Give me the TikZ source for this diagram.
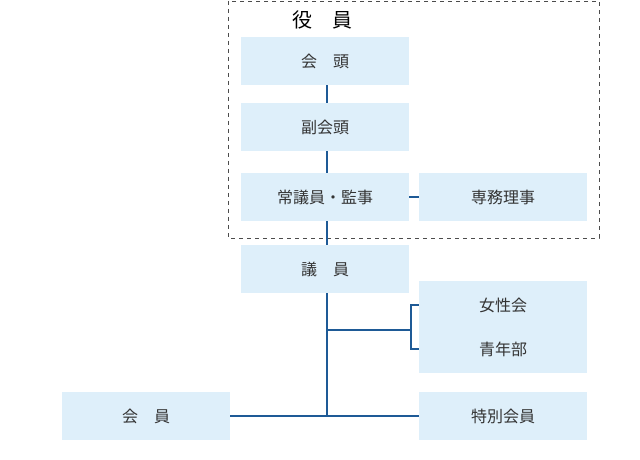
\documentclass[tikz,border=0pt]{standalone}
\usepackage{fontspec}
\setmainfont{Noto Sans CJK JP}
\definecolor{boxfill}{RGB}{222,239,250}
\definecolor{linecol}{RGB}{30,90,150}
\begin{document}
\begin{tikzpicture}[x=0.75pt,y=0.75pt,yscale=-1,xscale=1,
  post/.style={fill=boxfill,minimum width=126,minimum height=36,inner sep=0,font=\fontsize{12}{12}\selectfont,text=black!80},
  link/.style={draw=linecol,line width=1.2pt}]
\useasboundingbox (0,0) rectangle (640,460);

% dashed frame
\draw [dashed,black!70] (228,1) rectangle (599,238);
\node (yakuin) at (322,20) [font=\fontsize{15}{15}\selectfont] {役\hspace{1em}員};

% posts
\node (kaito) [post] at (325,61) {会\hspace{1em}頭};
\node (fuku) [post] at (325,127) {副会頭};
\node (joki) [post] at (325,197) {常議員・監事};
\node (senmu) [post] at (503,197) {専務理事};
\node (giin) [post] at (325,269) {議\hspace{1em}員};
\node (josei) [post] at (503,305) {女性会};
\node (seinen) [post] at (503,349) {青年部};
\node (kaiin) [post] at (146,416) {会\hspace{1em}員};
\node (tokubetsu) [post] at (503,416) {特別会員};

\coordinate (trunk) at (327,416);
\coordinate (fork) at (327,330);
\coordinate (split) at (411,330);

% connectors
\path [link] (kaito.south -| trunk) -- (fuku.north -| trunk);
\path [link] (fuku.south -| trunk) -- (joki.north -| trunk);
\path [link] (joki.south -| trunk) -- (giin.north -| trunk);
\path [link] (giin.south -| trunk) -- (trunk);
\path [link] (joki) -- (senmu);
\path [link] (fork) -- (split);
\path [link] (josei.west) -- (josei.west -| split) -- (seinen.west -| split) -- (seinen.west);
\path [link] (kaiin) -- (tokubetsu);
\end{tikzpicture}
\end{document}
